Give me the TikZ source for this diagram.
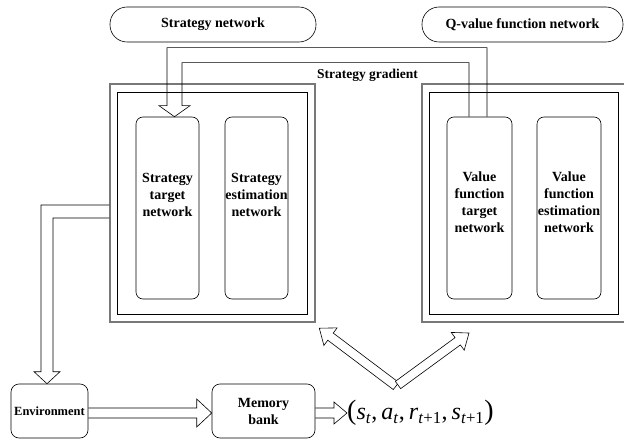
\documentclass[tikz,border=0pt]{standalone}
\usepackage{fontspec}
\setmainfont{Liberation Serif}
\usepackage{tikz}
\usetikzlibrary{positioning}
\usepackage{xcolor}
\definecolor{framegray}{RGB}{120,120,120}
\newcommand{\bigparen}[1]{{\fontsize{28}{30}\selectfont #1}}

\begin{document}
\begin{tikzpicture} [x=1pt, y=1pt,
		pill/.style={draw, line width=0.6pt, rounded corners=17pt, minimum height=35pt, font=\fontsize{14}{17}\selectfont\bfseries},
		outerframe/.style={draw=framegray, line width=1.3pt, minimum height=238pt},
		innerframe/.style={draw, line width=0.6pt, minimum height=222pt},
		netbox/.style={draw, line width=0.6pt, rounded corners=7pt, minimum height=182pt},
		nettext/.style={align=center, inner sep=0pt, font=\fontsize{14}{17}\selectfont\bfseries},
		stagebox/.style={draw, line width=0.6pt, rounded corners=8pt, minimum height=54pt, inner sep=2pt, align=center, font=\fontsize{14}{17}\selectfont\bfseries},
		blk/.style={line width=0.6pt}]
				\useasboundingbox (0,0) rectangle (624,440);
				\node[pill, minimum width=206pt] (spill) at (213,415.5) {Strategy network};
				\node[pill, minimum width=201pt] (qpill) at (522.5,415.5) {Q-value function network};
				\node[outerframe, minimum width=205pt] (lout) at (212.5,237) {};
				\node[innerframe, minimum width=190pt] (lin) at (212,237) {};
				\node[outerframe, minimum width=204pt] (rout) at (524,237) {};
				\node[innerframe, minimum width=189pt] (rin) at (523.5,237) {};
				\node[netbox, minimum width=63pt] (stt) at (167.5,232) {};
				\node[netbox, minimum width=63pt] (ste) at (256.5,232) {};
				\node[netbox, minimum width=65pt] (vt) at (479.5,232) {};
				\node[netbox, minimum width=64pt] (ve) at (569,232) {};
				\node[nettext] (stttext) at ([yshift=13pt]stt.center) {Strategy\\target\\network};
				\node[nettext] (stetext) at ([yshift=13pt]ste.center) {Strategy\\estimation\\network};
				\node[nettext] (vttext) at ([yshift=5.5pt]vt.center) {Value\\function\\target\\network};
				\node[nettext] (vetext) at ([yshift=5.5pt]ve.center) {Value\\function\\estimation\\network};
				\node[font=\fontsize{13.5}{16}\selectfont\bfseries] (gradlabel) at (367.5,365) {Strategy gradient};
				\node[stagebox, minimum width=77pt, font=\fontsize{12.5}{15}\selectfont\bfseries] (env) at (49.5,29) {Environment};
				\node[stagebox, minimum width=103pt] (mem) at (263.5,29) {Memory\\bank};
				\node[anchor=west, inner sep=0pt, font=\fontsize{24}{30}\selectfont] (tuple) at (347,27)
					{\bigparen{(}\textit{s}\textsubscript{\textit{t}},\,\textit{a}\textsubscript{\textit{t}},\,\textit{r}\textsubscript{\textit{t}+1},\,\textit{s}\textsubscript{\textit{t}+1}\bigparen{)}};
				\coordinate (gtip) at ([xshift=7pt]stt.north);
				\coordinate (etip) at ([xshift=-2.5pt]env.north);
				\coordinate (mtip) at ([yshift=-2pt]mem.west);
				\coordinate (vbase) at (396,54);
				\draw[blk] ([xshift=7.5pt]vt.north) -- ++(0,69) -| ([shift={(-7.5pt,11pt)}]gtip) -- ++(-8,0) -- (gtip) -- ++(15.5,11) -- ++(-8,0) -- ++(0,43) -| ([xshift=-10.5pt]vt.north);
				\draw[blk] ([yshift=-2pt]lout.west) -| ([shift={(-6pt,12pt)}]etip) -- ++(-7,0) -- (etip) -- ++(13,12) -- ++(-7,0) |- ([yshift=-15pt]lout.west);
				\draw[blk] ([yshift=3pt]env.east) -- ([shift={(-15pt,5pt)}]mtip) -- ++(0,9) -- (mtip) -- ++(-15,-14) -- ++(0,9) -- ([yshift=-7pt]env.east);
				\draw[blk] ([yshift=3pt]mem.east) -- ([shift={(-13pt,5pt)}]tuple.west) -- ++(0,6) -- (tuple.west) -- ++(-13,-11) -- ++(0,6) -- ([yshift=-7pt]mem.east);
				\begin{scope}[shift={(vbase)}, rotate=143]
					\draw[blk] (0,-4.5) -- (82,-4.5) -- (82,-11) -- (96,0) -- (82,11) -- (82,4.5) -- (0,4.5) -- cycle;
				\end{scope}
				\begin{scope}[shift={(398,55)}, rotate=36.2]
					\draw[blk, fill=white] (0,-4.5) -- (74,-4.5) -- (74,-11) -- (88,0) -- (74,11) -- (74,4.5) -- (0,4.5) -- cycle;
				\end{scope}
			\end{tikzpicture}
\end{document}
